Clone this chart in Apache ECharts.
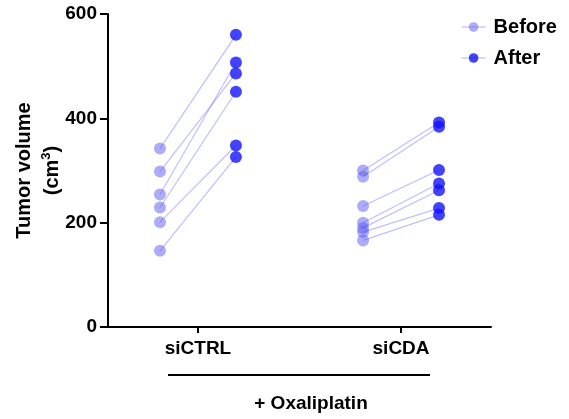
<!DOCTYPE html>
<html>
<head>
<meta charset="utf-8">
<script src="https://cdn.jsdelivr.net/npm/echarts@6/dist/echarts.min.js"></script>
<style>html,body{margin:0;padding:0;background:#fff}#c{width:569px;height:419px}</style>
</head>
<body>
<div id="c"></div>
<script>
const categories = ['siCTRL', 'siCDA'];
const yTicks = [0, 200, 400, 600];
const ctrlBefore = [342, 298, 254, 229, 201, 146];
const ctrlAfter  = [560, 486, 507, 451, 348, 326];
const cdaBefore  = [300, 288, 232, 200, 190, 182, 166];
const cdaAfter   = [392, 384, 301, 275, 262, 228, 215];

const FONT = '"Liberation Sans", Arial, Helvetica, sans-serif';
const OFF = 0.187;
const groups = [[ctrlBefore, ctrlAfter], [cdaBefore, cdaAfter]];

const beforePts = [], afterPts = [], pairSeries = [];
groups.forEach(([b, a], gi) => {
  b.forEach((v, i) => {
    beforePts.push([gi - OFF, v]);
    afterPts.push([gi + OFF, a[i]]);
    pairSeries.push({
      type: 'line', silent: true, symbol: 'none', z: 2,
      lineStyle: { color: 'rgba(110,110,255,0.45)', width: 1.2 },
      data: [[gi - OFF, v], [gi + OFF, a[i]]]
    });
  });
});

const chart = echarts.init(document.getElementById('c'), null, { renderer: 'canvas' });
chart.setOption({
  animation: false,
  textStyle: { fontFamily: FONT },
  grid: { left: 108, right: 78, top: 14, bottom: 92 },
  legend: {
    orient: 'vertical', left: 456, top: 12, itemWidth: 24, itemHeight: 12, itemGap: 11,
    textStyle: { fontFamily: FONT, fontWeight: 'bold', fontSize: 20, color: '#000', padding: [0, 0, 0, 3] },
    data: [
      { name: 'Before', lineStyle: { color: 'rgba(110,110,255,0.45)', width: 1.2, opacity: 1 } },
      { name: 'After', lineStyle: { color: 'rgba(110,110,255,0.45)', width: 1.2, opacity: 1 } }
    ]
  },
  xAxis: {
    type: 'value', min: -0.443, max: 1.443,
    axisLine: { show: true, onZero: false, lineStyle: { color: '#000', width: 2 } },
    axisTick: { show: true, customValues: [0, 1], length: 6, lineStyle: { color: '#000', width: 2 } },
    axisLabel: { customValues: [0, 1], formatter: v => categories[Math.round(v)], margin: 12,
      fontFamily: FONT, fontWeight: 'bold', fontSize: 19, color: '#000' },
    splitLine: { show: false }
  },
  yAxis: {
    type: 'value', min: 0, max: 600, interval: 200,
    name: '{a|Tumor volume}\n{a|(cm}{s|3}{a|)}',
    nameLocation: 'middle', nameGap: 42, nameRotate: 90, nameMoveOverlap: false,
    nameTextStyle: {
      rich: {
        a: { fontFamily: FONT, fontWeight: 'bold', fontSize: 20, color: '#000', lineHeight: 28 },
        s: { fontFamily: FONT, fontWeight: 'bold', fontSize: 13, color: '#000', padding: [0, 0, 12, 0] }
      }
    },
    axisLine: { show: true, onZero: false, lineStyle: { color: '#000', width: 2 } },
    axisTick: { show: true, length: 8, lineStyle: { color: '#000', width: 2 } },
    axisLabel: { margin: 11, fontFamily: FONT, fontWeight: 'bold', fontSize: 19, color: '#000',
      formatter: v => yTicks.includes(v) ? String(v) : '' },
    splitLine: { show: false }
  },
  series: pairSeries.concat([
    {
      name: 'Before', type: 'line', z: 3, symbol: 'circle', symbolSize: 12,
      lineStyle: { width: 0, opacity: 0 },
      itemStyle: { color: 'rgba(90,90,240,0.5)' },
      data: beforePts
    },
    {
      name: 'After', type: 'line', z: 4, symbol: 'circle', symbolSize: 12,
      lineStyle: { width: 0, opacity: 0 },
      itemStyle: { color: 'rgba(20,20,250,0.8)' },
      data: afterPts
    }
  ]),
  graphic: [
    { type: 'line', shape: { x1: 168, y1: 375, x2: 430, y2: 375 }, style: { stroke: '#000', lineWidth: 2 } },
    { type: 'text', x: 311, y: 404, style: { text: '+ Oxaliplatin', font: 'bold 19px ' + FONT, fill: '#000', align: 'center', verticalAlign: 'middle' } }
  ]
});
</script>
</body>
</html>
